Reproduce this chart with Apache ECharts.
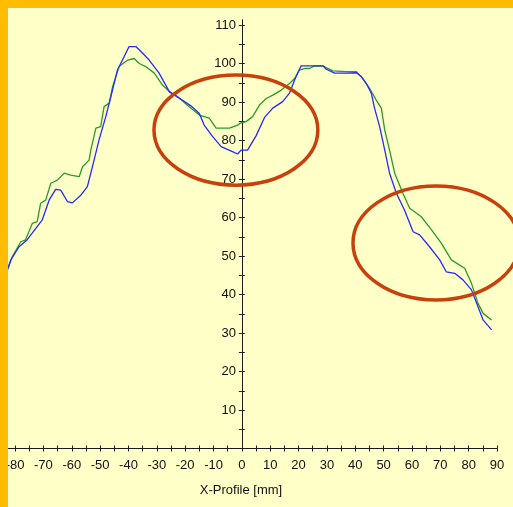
<!DOCTYPE html>
<html>
<head>
<meta charset="utf-8">
<script src="https://cdn.jsdelivr.net/npm/echarts@6/dist/echarts.min.js"></script>
<style>
html, body { margin: 0; padding: 0; background: #ffffc8; }
#chart { width: 513px; height: 507px; }
</style>
</head>
<body>
<div id="chart"></div>
<script>
// tick positions and labels
const xTickValues = [-80, -75, -70, -65, -60, -55, -50, -45, -40, -35, -30, -25, -20, -15, -10, -5, 0,
  5, 10, 15, 20, 25, 30, 35, 40, 45, 50, 55, 60, 65, 70, 75, 80, 85, 90]
const xLabelValues = [-80, -70, -60, -50, -40, -30, -20, -10, 0, 10, 20, 30, 40, 50, 60, 70, 80, 90]
const yTickValues = [5, 10, 15, 20, 25, 30, 35, 40, 45, 50, 55, 60, 65, 70, 75, 80, 85, 90, 95, 100, 105, 110]
const yLabelValues = [10, 20, 30, 40, 50, 60, 70, 80, 90, 100, 110]

// profiles: [x mm, value]
const blueProfile = [
  [-82.8, 46.4], [-81.5, 49], [-78.6, 52.4], [-76, 54], [-73.9, 56], [-70.4, 59.4], [-68, 64.5],
  [-65.7, 67.3], [-63.9, 67.1], [-61.5, 64.1], [-59.8, 63.8], [-56.8, 65.8], [-54.5, 68],
  [-52.7, 73.2], [-50.4, 80.1], [-48, 86.2], [-46.2, 91.4], [-43.9, 98.3], [-41.5, 101.8],
  [-39.8, 104.4], [-37.4, 104.4], [-35.6, 103.1], [-32.7, 100.9], [-29.2, 97.5], [-25.6, 92.7],
  [-22.1, 91], [-18, 89], [-15, 87], [-13.3, 84], [-10.3, 81], [-7.3, 78.4], [-3.3, 77.1],
  [-1.5, 76.5], [-0.3, 77.5], [2, 77.5], [5, 81.2], [8, 86], [10.9, 88.4], [14.4, 90.1],
  [16.8, 92.3], [18.6, 95.7], [20.9, 99.4], [23.3, 99.4], [28.6, 99.4], [29.8, 98.5], [32.7, 97.5],
  [36.8, 97.5], [40.4, 97.6], [42.1, 96.6], [43.9, 94.8], [45.7, 92.2], [46.8, 88.4], [48.6, 83.6],
  [50.4, 77.5], [52.1, 71.5], [54.5, 66.3], [57.4, 61.9], [60.4, 56.3], [62.7, 55.5], [66.2, 52.4],
  [69.8, 49], [72.1, 45.9], [75.1, 45.5], [78, 43.8], [81, 41.2], [83.3, 36.8], [85.1, 33.4],
  [88.1, 30.8]
]
const greenProfile = [
  [-82.8, 46], [-81, 49.8], [-78, 53.7], [-76.3, 54.2], [-73.9, 58.5], [-72.2, 58.9], [-71, 63.7],
  [-69.2, 64.5], [-67.4, 68.9], [-65.1, 69.7], [-62.7, 71.5], [-60.4, 71], [-57.4, 70.6],
  [-56.2, 73.2], [-53.9, 74.9], [-53.3, 77.5], [-51.5, 83.2], [-49.8, 83.6], [-48.6, 88.8],
  [-46.8, 89.7], [-45.6, 94], [-43.3, 99.2], [-40.3, 100.9], [-38, 101.3], [-36.2, 100],
  [-33.9, 99.2], [-30.9, 97.5], [-28, 94.4], [-25.6, 92.7], [-22.7, 91.4], [-19, 89], [-15, 86.6],
  [-11.5, 85.8], [-9.1, 83.2], [-4.4, 83.2], [-1.5, 84], [-0.3, 84.6], [1.5, 84.9], [3.8, 86.2],
  [6.2, 89.2], [8.6, 90.9], [10.9, 91.8], [13.9, 93.1], [16.8, 94.8], [18.6, 96.1], [20.3, 98.3],
  [22.1, 98.7], [23.9, 98.7], [25.6, 99.4], [28.6, 99.3], [32.1, 98.1], [36.8, 97.9], [40.4, 97.9],
  [42.7, 96.1], [45.1, 93.5], [47.4, 90.5], [49.2, 88.4], [50.4, 82.7], [52.1, 77.5], [53.9, 71.5],
  [56.8, 66.3], [59.2, 62.4], [63.3, 60.2], [66.9, 56.8], [70.4, 53.3], [73.9, 49], [78.6, 46.8],
  [81, 42.9], [83.3, 37.7], [85.1, 35.1], [88.1, 33.4]
]

// red marker ellipses, in data units: centre x, centre y, radius x, radius y
const highlights = [
  { cx: -2.1, cy: 82.7, rx: 28.9, ry: 14.3 },
  { cx: 68.5, cy: 53.4, rx: 29.3, ry: 14.8 }
]

const X_MIN = -82.5
const X_MAX = 90
const Y_MIN = 0
const Y_MAX = 111.3
const GRID_LEFT = 8
const axisColor = '#1a1a1a'
const font = "'Liberation Sans', Arial, sans-serif"

const chart = echarts.init(document.getElementById('chart'))

const xAxisBase = {
  type: 'value',
  position: 'bottom',
  min: X_MIN,
  max: X_MAX,
  splitLine: { show: false },
  axisLine: { onZero: false, lineStyle: { color: axisColor, width: 1 } }
}
const yAxisBase = {
  type: 'value',
  position: 'left',
  min: Y_MIN,
  max: Y_MAX,
  offset: 0,
  splitLine: { show: false },
  axisLine: { onZero: false, lineStyle: { color: axisColor, width: 1 } }
}

const option = {
  animation: false,
  backgroundColor: '#ffffc8',
  grid: { left: GRID_LEFT, right: 16, top: 20, bottom: 58.5, outerBoundsMode: 'none', containLabel: false },
  xAxis: [
    {
      ...xAxisBase,
      name: 'X-Profile [mm]',
      nameLocation: 'middle',
      nameGap: 35,
      nameTextStyle: { color: '#111', fontFamily: font, fontSize: 13, padding: [0, 23, 0, 0] },
      axisTick: { show: true, length: 3, customValues: xTickValues, lineStyle: { color: axisColor } },
      axisLabel: { show: true, customValues: xLabelValues, margin: 10, color: '#111', fontFamily: font, fontSize: 13 }
    },
    {
      ...xAxisBase,
      axisTick: { show: true, inside: true, length: 3, customValues: xTickValues, lineStyle: { color: axisColor } },
      axisLabel: { show: false }
    }
  ],
  yAxis: [
    {
      ...yAxisBase,
      axisTick: { show: true, length: 3, customValues: yTickValues, lineStyle: { color: axisColor } },
      axisLabel: { show: true, customValues: yLabelValues, margin: 6, color: '#111', fontFamily: font, fontSize: 13 }
    },
    {
      ...yAxisBase,
      axisTick: { show: true, inside: true, length: 3, customValues: yTickValues, lineStyle: { color: axisColor } },
      axisLabel: { show: false }
    }
  ],
  series: [
    {
      type: 'line',
      name: 'green',
      data: greenProfile,
      showSymbol: false,
      lineStyle: { color: '#2b9a2b', width: 1.3 },
      z: 2
    },
    {
      type: 'line',
      name: 'blue',
      data: blueProfile,
      showSymbol: false,
      lineStyle: { color: '#2828ff', width: 1.3 },
      z: 3
    }
  ]
}

chart.setOption(option)

// move both y axes onto x = 0
const zeroPx = chart.convertToPixel({ xAxisIndex: 0 }, 0)
const yOffset = -(zeroPx - GRID_LEFT)

const ellipses = highlights.map(e => {
  const c = chart.convertToPixel({ xAxisIndex: 0, yAxisIndex: 0 }, [e.cx, e.cy])
  const r = chart.convertToPixel({ xAxisIndex: 0, yAxisIndex: 0 }, [e.cx + e.rx, e.cy + e.ry])
  return {
    type: 'ellipse',
    shape: { cx: c[0], cy: c[1], rx: r[0] - c[0], ry: c[1] - r[1] },
    style: { fill: null, stroke: '#c8400c', lineWidth: 3.5 },
    z: 50
  }
})

chart.setOption({
  yAxis: [{ offset: yOffset }, { offset: yOffset }],
  graphic: [
    ...ellipses,
    { type: 'rect', shape: { x: 0, y: 0, width: 513, height: 8 }, style: { fill: '#ffbc00' }, z: 100 },
    { type: 'rect', shape: { x: 0, y: 0, width: 8, height: 507 }, style: { fill: '#ffbc00' }, z: 100 }
  ]
})
</script>
</body>
</html>
